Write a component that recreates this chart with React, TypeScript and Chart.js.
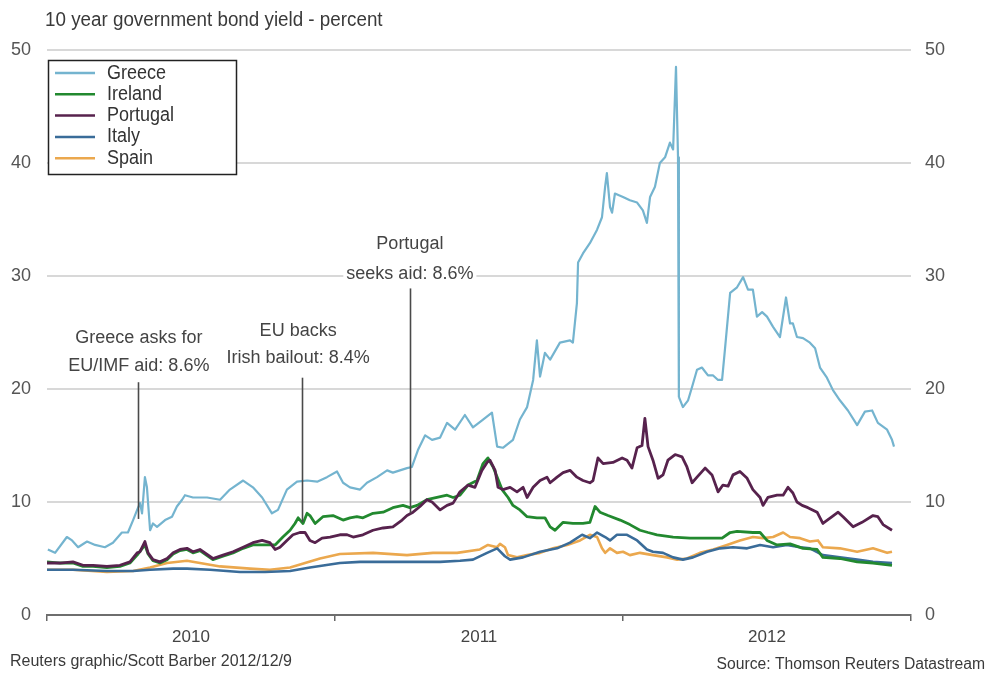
import React, { useEffect, useRef } from 'react';
import { Chart, registerables } from 'chart.js';

Chart.register(...registerables);

const FONT = "'Liberation Sans', Arial, Helvetica, sans-serif";

// ---------- text ----------
const TITLE = '10 year government bond yield - percent';
const FOOT_LEFT = 'Reuters graphic/Scott Barber 2012/12/9';
const FOOT_RIGHT = 'Source: Thomson Reuters Datastream';
const YEAR_LABELS = ['2010', '2011', '2012'];
const Y_TICKS = [0, 10, 20, 30, 40, 50];
const SERIES_NAMES = ['Greece', 'Ireland', 'Portugal', 'Italy', 'Spain'];

// ---------- data: [decimal year, yield %] ----------
const greece: [number, number][] = [
  [2010.003, 5.8], [2010.028, 5.5], [2010.069, 6.9], [2010.087, 6.6], [2010.108, 6.0], [2010.139, 6.5],
  [2010.167, 6.2], [2010.201, 6.0], [2010.229, 6.4], [2010.260, 7.3], [2010.281, 7.3], [2010.299, 8.4],
  [2010.313, 9.3], [2010.323, 9.9], [2010.330, 9.0], [2010.340, 12.2], [2010.347, 11.3], [2010.358, 7.5],
  [2010.368, 8.1], [2010.382, 7.8], [2010.410, 8.4], [2010.434, 8.7], [2010.451, 9.6], [2010.469, 10.2],
  [2010.479, 10.6], [2010.507, 10.4], [2010.531, 10.4], [2010.556, 10.4], [2010.601, 10.2], [2010.635, 11.1],
  [2010.681, 11.9], [2010.715, 11.3], [2010.747, 10.4], [2010.781, 9.0], [2010.802, 9.3], [2010.833, 11.1],
  [2010.868, 11.8], [2010.903, 11.9], [2010.938, 11.8], [2010.972, 12.2], [2011.007, 12.7], [2011.028, 11.7],
  [2011.052, 11.3], [2011.087, 11.1], [2011.111, 11.7], [2011.146, 12.2], [2011.181, 12.8], [2011.201, 12.6],
  [2011.250, 13.0], [2011.267, 13.1], [2011.288, 14.6], [2011.313, 15.9], [2011.337, 15.5], [2011.365, 15.7],
  [2011.389, 17.0], [2011.417, 16.4], [2011.451, 17.7], [2011.479, 16.6], [2011.514, 17.3], [2011.545, 17.9],
  [2011.563, 14.9], [2011.583, 14.8], [2011.618, 15.5], [2011.642, 17.3], [2011.667, 18.4], [2011.688, 20.8],
  [2011.701, 24.3], [2011.712, 21.1], [2011.729, 23.2], [2011.747, 22.6], [2011.781, 24.1], [2011.816, 24.3],
  [2011.826, 24.1], [2011.840, 27.6], [2011.844, 31.2], [2011.861, 32.0], [2011.885, 32.9], [2011.910, 34.1],
  [2011.927, 35.2], [2011.938, 37.9], [2011.944, 39.1], [2011.955, 36.1], [2011.962, 35.6], [2011.972, 37.3],
  [2012.000, 37.0], [2012.024, 36.7], [2012.049, 36.5], [2012.069, 35.8], [2012.083, 34.7], [2012.094, 37.0],
  [2012.111, 37.9], [2012.128, 40.0], [2012.146, 40.5], [2012.163, 41.8], [2012.174, 41.2], [2012.184, 48.5],
  [2012.191, 40.5], [2012.194, 19.3], [2012.208, 18.4], [2012.226, 19.0], [2012.240, 20.2], [2012.257, 21.7],
  [2012.274, 21.9], [2012.295, 21.2], [2012.313, 21.2], [2012.330, 20.8], [2012.344, 20.8], [2012.354, 23.5],
  [2012.372, 28.5], [2012.396, 29.0], [2012.417, 29.9], [2012.434, 28.8], [2012.451, 28.8], [2012.465, 26.4],
  [2012.483, 26.8], [2012.500, 26.4], [2012.521, 25.5], [2012.545, 24.6], [2012.566, 28.1], [2012.580, 25.8],
  [2012.590, 25.8], [2012.604, 24.6], [2012.625, 24.5], [2012.649, 24.1], [2012.667, 23.6], [2012.684, 21.9],
  [2012.708, 21.0], [2012.729, 19.9], [2012.753, 19.0], [2012.781, 18.1], [2012.813, 16.8], [2012.840, 18.0],
  [2012.865, 18.1], [2012.885, 17.0], [2012.917, 16.4], [2012.934, 15.5], [2012.941, 14.9],
];

const ireland: [number, number][] = [
  [2010.000, 4.7], [2010.045, 4.6], [2010.090, 4.6], [2010.125, 4.3], [2010.160, 4.3], [2010.208, 4.2],
  [2010.253, 4.3], [2010.288, 4.6], [2010.313, 5.3], [2010.340, 6.2], [2010.351, 5.4], [2010.368, 4.8],
  [2010.392, 4.6], [2010.417, 4.9], [2010.438, 5.4], [2010.462, 5.7], [2010.486, 5.8], [2010.507, 5.5],
  [2010.531, 5.7], [2010.576, 4.9], [2010.611, 5.2], [2010.646, 5.5], [2010.681, 5.9], [2010.715, 6.2],
  [2010.757, 6.2], [2010.792, 6.2], [2010.819, 6.9], [2010.844, 7.5], [2010.861, 8.1], [2010.872, 8.6],
  [2010.889, 8.1], [2010.903, 9.0], [2010.913, 8.8], [2010.931, 8.1], [2010.958, 8.7], [2010.993, 8.8],
  [2011.028, 8.4], [2011.052, 8.6], [2011.076, 8.7], [2011.097, 8.6], [2011.132, 9.0], [2011.167, 9.1],
  [2011.201, 9.5], [2011.236, 9.7], [2011.260, 9.5], [2011.285, 9.7], [2011.319, 10.2], [2011.354, 10.4],
  [2011.389, 10.6], [2011.410, 10.4], [2011.434, 10.6], [2011.462, 11.5], [2011.493, 11.9], [2011.514, 13.4],
  [2011.531, 13.9], [2011.549, 13.1], [2011.563, 12.2], [2011.580, 11.1], [2011.601, 10.4], [2011.618, 9.7],
  [2011.642, 9.3], [2011.667, 8.7], [2011.701, 8.6], [2011.729, 8.6], [2011.747, 7.8], [2011.764, 7.5],
  [2011.792, 8.2], [2011.826, 8.1], [2011.861, 8.1], [2011.885, 8.2], [2011.903, 9.6], [2011.920, 9.1],
  [2011.948, 8.8], [2011.990, 8.4], [2012.024, 8.0], [2012.059, 7.5], [2012.087, 7.3], [2012.118, 7.1],
  [2012.174, 6.9], [2012.233, 6.8], [2012.292, 6.8], [2012.344, 6.8], [2012.372, 7.3], [2012.396, 7.4],
  [2012.451, 7.3], [2012.476, 7.3], [2012.500, 6.6], [2012.535, 6.2], [2012.580, 6.3], [2012.625, 5.9],
  [2012.674, 5.8], [2012.694, 5.1], [2012.753, 5.0], [2012.813, 4.7], [2012.868, 4.6], [2012.934, 4.4],
];

const portugal: [number, number][] = [
  [2010.000, 4.6], [2010.045, 4.6], [2010.090, 4.7], [2010.125, 4.4], [2010.160, 4.4], [2010.208, 4.3],
  [2010.253, 4.4], [2010.288, 4.7], [2010.313, 5.5], [2010.323, 5.6], [2010.340, 6.5], [2010.351, 5.5],
  [2010.368, 4.9], [2010.392, 4.7], [2010.417, 5.0], [2010.438, 5.5], [2010.462, 5.8], [2010.486, 5.9],
  [2010.507, 5.6], [2010.531, 5.8], [2010.576, 5.0], [2010.611, 5.3], [2010.646, 5.6], [2010.681, 6.0],
  [2010.715, 6.4], [2010.747, 6.6], [2010.774, 6.4], [2010.792, 5.8], [2010.809, 6.0], [2010.833, 6.6],
  [2010.854, 7.1], [2010.878, 7.3], [2010.896, 7.3], [2010.913, 6.6], [2010.931, 6.4], [2010.955, 6.8],
  [2010.983, 6.9], [2011.017, 7.1], [2011.042, 7.1], [2011.063, 6.9], [2011.097, 7.1], [2011.132, 7.5],
  [2011.167, 7.7], [2011.201, 7.8], [2011.233, 8.4], [2011.250, 8.8], [2011.271, 9.1], [2011.295, 9.6],
  [2011.319, 10.2], [2011.337, 10.0], [2011.365, 9.3], [2011.389, 9.7], [2011.410, 9.9], [2011.434, 10.9],
  [2011.462, 11.5], [2011.486, 11.3], [2011.510, 12.8], [2011.528, 13.5], [2011.538, 13.7], [2011.556, 12.8],
  [2011.566, 11.3], [2011.583, 11.1], [2011.608, 11.3], [2011.632, 10.9], [2011.653, 11.3], [2011.667, 10.4],
  [2011.688, 11.3], [2011.712, 11.9], [2011.736, 12.2], [2011.747, 11.7], [2011.771, 12.2], [2011.792, 12.6],
  [2011.816, 12.8], [2011.840, 12.2], [2011.861, 11.9], [2011.885, 11.7], [2011.896, 11.9], [2011.913, 13.9],
  [2011.931, 13.4], [2011.965, 13.5], [2011.997, 13.9], [2012.014, 13.7], [2012.031, 13.0], [2012.049, 14.8],
  [2012.066, 15.0], [2012.076, 17.4], [2012.087, 14.9], [2012.104, 13.7], [2012.122, 12.1], [2012.139, 12.4],
  [2012.156, 13.7], [2012.181, 14.2], [2012.205, 14.0], [2012.222, 13.1], [2012.240, 11.7], [2012.257, 12.2],
  [2012.285, 13.0], [2012.309, 12.4], [2012.330, 10.9], [2012.347, 11.5], [2012.365, 11.4], [2012.382, 12.4],
  [2012.406, 12.7], [2012.431, 12.1], [2012.451, 11.1], [2012.476, 10.4], [2012.486, 9.7], [2012.503, 10.4],
  [2012.535, 10.6], [2012.556, 10.6], [2012.573, 11.3], [2012.590, 10.8], [2012.604, 10.0], [2012.622, 9.7],
  [2012.642, 9.5], [2012.674, 9.1], [2012.694, 8.1], [2012.726, 8.7], [2012.747, 9.1], [2012.764, 8.7],
  [2012.799, 7.8], [2012.830, 8.2], [2012.868, 8.8], [2012.885, 8.7], [2012.903, 8.0], [2012.934, 7.5],
];

const italy: [number, number][] = [
  [2010.000, 4.0], [2010.090, 4.0], [2010.208, 3.9], [2010.299, 3.9], [2010.358, 4.0], [2010.438, 4.1],
  [2010.486, 4.1], [2010.566, 4.0], [2010.670, 3.8], [2010.757, 3.8], [2010.844, 3.9], [2010.913, 4.2],
  [2010.965, 4.4], [2011.017, 4.6], [2011.087, 4.7], [2011.226, 4.7], [2011.365, 4.7], [2011.434, 4.8],
  [2011.479, 4.9], [2011.528, 5.5], [2011.563, 5.9], [2011.590, 5.2], [2011.608, 4.9], [2011.653, 5.1],
  [2011.712, 5.6], [2011.771, 5.9], [2011.816, 6.4], [2011.858, 7.1], [2011.885, 6.8], [2011.910, 7.3],
  [2011.938, 6.9], [2011.955, 6.6], [2011.979, 7.1], [2012.014, 7.1], [2012.049, 6.6], [2012.083, 5.8],
  [2012.104, 5.6], [2012.139, 5.5], [2012.174, 5.1], [2012.208, 4.9], [2012.243, 5.1], [2012.292, 5.6],
  [2012.337, 5.9], [2012.382, 6.0], [2012.431, 5.9], [2012.476, 6.2], [2012.521, 6.0], [2012.569, 6.2],
  [2012.615, 6.0], [2012.649, 5.9], [2012.694, 5.3], [2012.753, 5.1], [2012.813, 4.9], [2012.868, 4.7],
  [2012.934, 4.6],
];

const spain: [number, number][] = [
  [2010.000, 4.0], [2010.090, 4.0], [2010.208, 3.8], [2010.299, 3.9], [2010.358, 4.2], [2010.417, 4.6],
  [2010.486, 4.8], [2010.531, 4.6], [2010.601, 4.3], [2010.705, 4.1], [2010.774, 4.0], [2010.844, 4.2],
  [2010.896, 4.6], [2010.948, 5.0], [2011.017, 5.4], [2011.132, 5.5], [2011.250, 5.3], [2011.340, 5.5],
  [2011.424, 5.5], [2011.503, 5.8], [2011.531, 6.2], [2011.563, 6.0], [2011.573, 6.3], [2011.590, 6.0],
  [2011.601, 5.3], [2011.632, 5.1], [2011.667, 5.3], [2011.712, 5.5], [2011.757, 5.9], [2011.806, 6.2],
  [2011.851, 6.6], [2011.885, 7.1], [2011.910, 6.9], [2011.927, 5.9], [2011.938, 5.5], [2011.955, 5.9],
  [2011.979, 5.5], [2012.000, 5.6], [2012.024, 5.3], [2012.059, 5.5], [2012.104, 5.3], [2012.153, 5.1],
  [2012.188, 4.9], [2012.222, 5.0], [2012.267, 5.5], [2012.313, 5.8], [2012.361, 6.2], [2012.406, 6.6],
  [2012.451, 6.9], [2012.486, 6.8], [2012.521, 6.9], [2012.556, 7.3], [2012.580, 6.9], [2012.615, 6.8],
  [2012.649, 6.5], [2012.677, 6.6], [2012.694, 6.0], [2012.753, 5.9], [2012.813, 5.6], [2012.868, 5.9],
  [2012.917, 5.5], [2012.934, 5.6],
];

// ---------- annotations (event, yield) ----------
const ANNOTATION_TEXT = [
  ['Greece asks for', 'EU/IMF aid: 8.6%'],
  ['EU backs', 'Irish bailout: 8.4%'],
  ['Portugal', 'seeks aid: 8.6%'],
];
const ANNOTATION_X = [2010.316, 2010.887, 2011.260];
const ANNOTATION_Y = [8.5, 8.2, 9.0];

// ---------- layout / style (not data) ----------
const ANNOT_LAYOUT = [
  { lineTop: 20.6, textX: 2010.319, textY: [24.5, 22.0] },
  { lineTop: 21.0, textX: 2010.872, textY: [25.1, 22.7] },
  { lineTop: 28.9, textX: 2011.260, textY: [32.8, 30.2] },
];
const COLORS = ['#74b4cf', '#22892f', '#57224d', '#3a6c99', '#eba84e'];
const WIDTHS = [2.2, 2.8, 2.8, 2.6, 2.6];
const ORDERS = [0, 2, 1, 3, 4];

function drawText(
  ctx: CanvasRenderingContext2D, text: string, x: number, y: number,
  size: number, sx: number, align: CanvasTextAlign, color: string, bg = false,
) {
  ctx.save();
  ctx.font = `${size}px ${FONT}`;
  ctx.textBaseline = 'middle';
  ctx.textAlign = align;
  if (bg) {
    const w = ctx.measureText(text).width * sx;
    let left = x;
    if (align === 'center') left = x - w / 2;
    else if (align === 'right') left = x - w;
    ctx.fillStyle = '#ffffff';
    ctx.fillRect(left - 3, y - size * 0.62, w + 6, size * 1.24);
  }
  ctx.fillStyle = color;
  ctx.translate(x, y);
  ctx.scale(sx, 1);
  ctx.fillText(text, 0, 0);
  ctx.restore();
}

const pagePlugin = {
  id: 'pagePlugin',
  beforeDraw(chart: any) {
    const { ctx, width, height } = chart;
    ctx.save();
    ctx.fillStyle = '#ffffff';
    ctx.fillRect(0, 0, width, height);
    ctx.restore();
  },
  afterDatasetsDraw(chart: any) {
    const { ctx } = chart;
    const xs = chart.scales.x;
    const ys = chart.scales.y;
    ANNOTATION_TEXT.forEach((lines, i) => {
      const lay = ANNOT_LAYOUT[i];
      const x = Math.round(xs.getPixelForValue(ANNOTATION_X[i])) + 0.5;
      ctx.save();
      ctx.strokeStyle = '#4a4a4a';
      ctx.lineWidth = 1.6;
      ctx.beginPath();
      ctx.moveTo(x, ys.getPixelForValue(lay.lineTop));
      ctx.lineTo(x, ys.getPixelForValue(ANNOTATION_Y[i]));
      ctx.stroke();
      ctx.restore();
      lines.forEach((t, j) => {
        drawText(ctx, t, xs.getPixelForValue(lay.textX), ys.getPixelForValue(lay.textY[j]), 18, 1, 'center', '#444', true);
      });
    });
  },
  afterDraw(chart: any) {
    const { ctx } = chart;
    drawText(ctx, TITLE, 45, 20, 20, 0.94, 'left', '#3a3a3a');
    ctx.save();
    ctx.fillStyle = '#ffffff';
    ctx.fillRect(48.5, 60.5, 188, 114);
    ctx.strokeStyle = '#222';
    ctx.lineWidth = 1.5;
    ctx.strokeRect(48.5, 60.5, 188, 114);
    ctx.restore();
    chart.data.datasets.forEach((ds: any, i: number) => {
      const y = 73 + i * 21.3;
      ctx.save();
      ctx.strokeStyle = ds.borderColor;
      ctx.lineWidth = 2.5;
      ctx.beginPath();
      ctx.moveTo(55, y);
      ctx.lineTo(95, y);
      ctx.stroke();
      ctx.restore();
      drawText(ctx, ds.label, 107, y, 20, 0.9, 'left', '#333');
    });
    drawText(ctx, FOOT_LEFT, 10, 662, 16, 1, 'left', '#3a3a3a');
    drawText(ctx, FOOT_RIGHT, 985, 665, 16, 0.98, 'right', '#3a3a3a');
  },
};

const SERIES = [greece, ireland, portugal, italy, spain];

export default function App() {
  const ref = useRef<HTMLCanvasElement>(null);
  useEffect(() => {
    const canvas = ref.current;
    if (!canvas) return;
    const datasets = SERIES.map((s, i) => ({
      label: SERIES_NAMES[i],
      data: s.map(([x, y]) => ({ x, y })),
      borderColor: COLORS[i],
      backgroundColor: COLORS[i],
      borderWidth: WIDTHS[i],
      borderJoinStyle: 'round',
      pointRadius: 0,
      tension: 0,
      fill: false,
      order: ORDERS[i],
    }));
    const xTickValues: number[] = [];
    for (let k = 0; k <= YEAR_LABELS.length * 2; k++) xTickValues.push(2010 + k / 2);
    const yTickConf = {
      autoSkip: false,
      color: '#555',
      font: { size: 18, family: FONT },
    };
    const chart = new Chart(canvas, {
      type: 'line',
      data: { datasets } as any,
      options: {
        responsive: false,
        animation: false,
        devicePixelRatio: 1,
        layout: { padding: { top: 50, left: 0, right: 0, bottom: 0 } },
        plugins: {
          legend: { display: false },
          tooltip: { enabled: false },
          title: { display: false },
        },
        scales: {
          x: {
            type: 'linear',
            min: 2010,
            max: 2010 + YEAR_LABELS.length,
            afterBuildTicks: (s: any) => { s.ticks = xTickValues.map((v) => ({ value: v })); },
            afterFit: (s: any) => { s.height = 62; },
            ticks: {
              autoSkip: false,
              maxRotation: 0,
              minRotation: 0,
              padding: 6,
              color: '#444',
              font: { size: 17, family: FONT },
              callback: (v: any) => {
                const n = Number(v);
                if (Number.isInteger(n)) return '';
                return YEAR_LABELS[Math.floor(n) - 2010] ?? '';
              },
            },
            grid: {
              drawOnChartArea: false,
              drawTicks: true,
              tickLength: 6,
              lineWidth: 1.5,
              color: (c: any) => (c.tick && Number.isInteger(c.tick.value) ? '#666' : 'rgba(0,0,0,0)'),
            },
            border: { display: true, color: '#6e6e6e', width: 2 },
          },
          y: {
            type: 'linear',
            position: 'left',
            min: 0,
            max: 50,
            afterBuildTicks: (s: any) => { s.ticks = Y_TICKS.map((v) => ({ value: v })); },
            afterFit: (s: any) => { s.width = 47; },
            ticks: { ...yTickConf, padding: 16 },
            grid: {
              drawTicks: false,
              lineWidth: 2,
              color: (c: any) => (c.tick && c.tick.value === 0 ? 'rgba(0,0,0,0)' : '#d8d8d8'),
            },
            border: { display: false },
          },
          y2: {
            type: 'linear',
            position: 'right',
            min: 0,
            max: 50,
            afterBuildTicks: (s: any) => { s.ticks = Y_TICKS.map((v) => ({ value: v })); },
            afterFit: (s: any) => { s.width = 82; },
            ticks: { ...yTickConf, padding: 14 },
            grid: { display: false, drawTicks: false },
            border: { display: false },
          },
        },
      } as any,
      plugins: [pagePlugin],
    });
    return () => chart.destroy();
  }, []);
  return (
    <div style={{ position: 'absolute', left: 0, top: 0, width: 993, height: 677, background: '#fff' }}>
      <canvas ref={ref} width={993} height={677} style={{ display: 'block', width: 993, height: 677 }} />
    </div>
  );
}
